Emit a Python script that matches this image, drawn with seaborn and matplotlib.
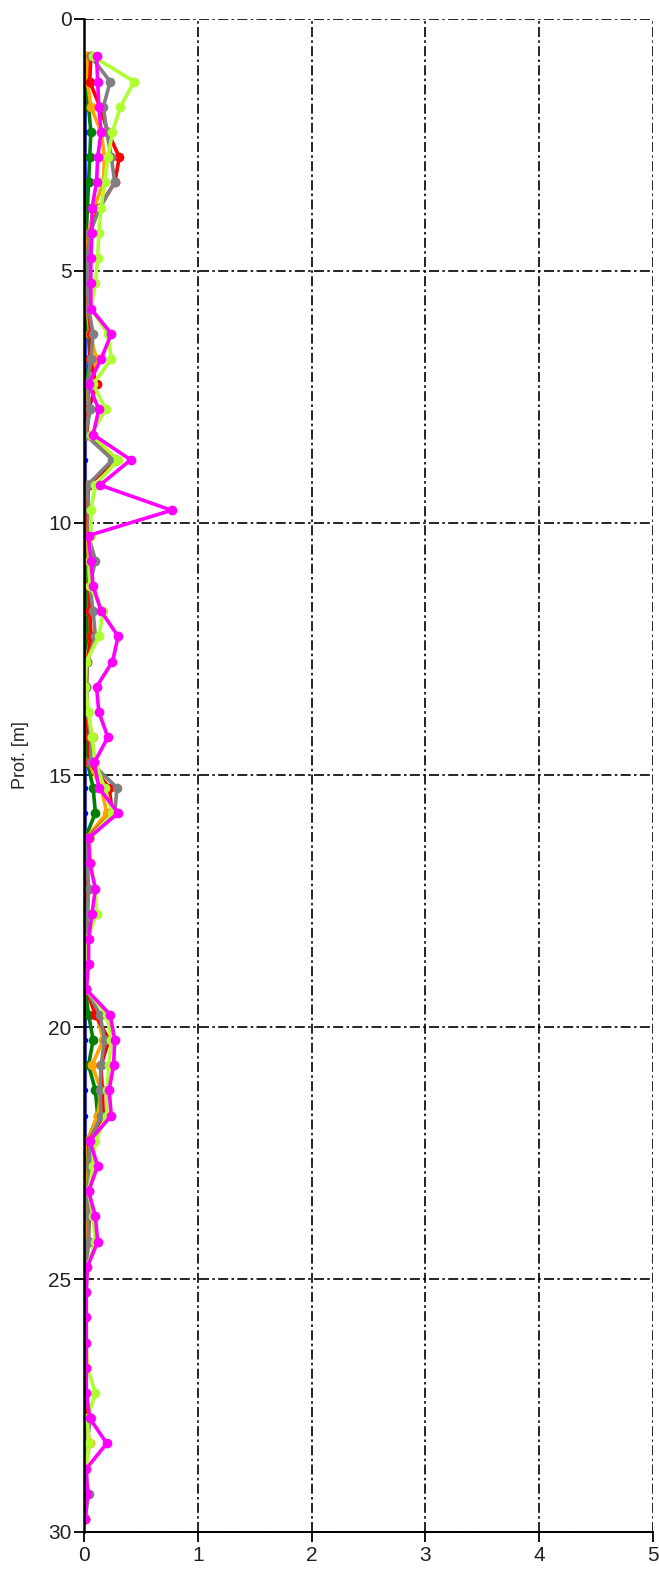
import matplotlib
matplotlib.use("Agg")
import pandas as pd
import seaborn as sns
import matplotlib.pyplot as plt

# depth of each reading [m]
depth = [0.75, 1.25, 1.75, 2.25, 2.75, 3.25, 3.75, 4.25, 4.75, 5.25,
         5.75, 6.25, 6.75, 7.25, 7.75, 8.25, 8.75, 9.25, 9.75, 10.25,
         10.75, 11.25, 11.75, 12.25, 12.75, 13.25, 13.75, 14.25, 14.75, 15.25,
         15.75, 16.25, 16.75, 17.25, 17.75, 18.25, 18.75, 19.25, 19.75, 20.25,
         20.75, 21.25, 21.75, 22.25, 22.75, 23.25, 23.75, 24.25, 24.75, 25.25,
         25.75, 26.25, 26.75, 27.25, 27.75, 28.25, 28.75, 29.25, 29.75]

blue = [0.01, 0.01, 0.01, 0.01, 0.01, 0.01, 0.01, 0.01, 0.01, 0.01,
        0.01, 0.01, 0.01, 0.01, 0.01, 0.01, 0.01, 0.01, 0.01, 0.01,
        0.01, 0.01, 0.01, 0.01, 0.01, 0.01, 0.01, 0.01, 0.01, 0.01,
        0.01, 0.01, 0.01, 0.01, 0.01, 0.01, 0.01, 0.01, 0.01, 0.01,
        0.01, 0.01, 0.01, 0.01, 0.01, 0.01, 0.01, 0.01, 0.01, 0.01,
        0.01, 0.01, 0.01, 0.01, 0.01, 0.01, 0.01, 0.01, 0.01]

dark_green = [0.01, 0.02, 0.04, 0.06, 0.05, 0.04, 0.03, 0.02, 0.01, 0.01,
              0.02, 0.04, 0.05, 0.02, 0.05, 0.02, 0.29, 0.03, 0.02, 0.02,
              0.02, 0.02, 0.03, 0.03, 0.01, 0.01, 0.01, 0.03, 0.03, 0.08,
              0.10, 0.01, 0.01, 0.01, 0.01, 0.01, 0.01, 0.01, 0.04, 0.08,
              0.04, 0.10, 0.12, 0.03, 0.02, 0.02, 0.05, 0.03, 0.01, 0.01,
              0.01, 0.01, 0.01, 0.01, 0.01, 0.02, 0.01, 0.01, 0.01]

orange = [0.03, 0.03, 0.06, 0.15, 0.18, 0.17, 0.09, 0.04, 0.02, 0.02,
          0.03, 0.05, 0.11, 0.03, 0.04, 0.02, 0.28, 0.03, 0.02, 0.03,
          0.04, 0.04, 0.05, 0.06, 0.02, 0.02, 0.02, 0.08, 0.04, 0.15,
          0.20, 0.02, 0.02, 0.04, 0.03, 0.02, 0.01, 0.02, 0.11, 0.17,
          0.07, 0.15, 0.12, 0.03, 0.04, 0.02, 0.02, 0.02, 0.01, 0.01,
          0.01, 0.01, 0.01, 0.01, 0.02, 0.05, 0.01, 0.01, 0.01]

red = [0.06, 0.05, 0.14, 0.21, 0.31, 0.27, 0.13, 0.05, 0.03, 0.03,
       0.04, 0.06, 0.05, 0.11, 0.04, 0.02, 0.27, 0.04, 0.03, 0.04,
       0.06, 0.04, 0.05, 0.06, 0.03, 0.02, 0.02, 0.04, 0.05, 0.22,
       0.25, 0.03, 0.02, 0.03, 0.03, 0.02, 0.02, 0.02, 0.10, 0.22,
       0.15, 0.16, 0.17, 0.04, 0.05, 0.04, 0.04, 0.04, 0.01, 0.01,
       0.01, 0.01, 0.01, 0.01, 0.01, 0.02, 0.01, 0.01, 0.01]

gray = [0.06, 0.23, 0.17, 0.20, 0.24, 0.27, 0.14, 0.05, 0.03, 0.03,
        0.04, 0.08, 0.06, 0.03, 0.05, 0.01, 0.25, 0.03, 0.04, 0.04,
        0.10, 0.05, 0.08, 0.10, 0.03, 0.02, 0.03, 0.06, 0.06, 0.29,
        0.27, 0.03, 0.03, 0.04, 0.03, 0.02, 0.02, 0.02, 0.14, 0.18,
        0.15, 0.14, 0.15, 0.05, 0.05, 0.03, 0.04, 0.04, 0.02, 0.01,
        0.01, 0.01, 0.01, 0.01, 0.06, 0.02, 0.01, 0.04, 0.01]

green_yellow = [0.08, 0.44, 0.32, 0.25, 0.21, 0.18, 0.15, 0.13, 0.12, 0.10,
                0.06, 0.21, 0.24, 0.08, 0.19, 0.06, 0.30, 0.10, 0.06, 0.06,
                0.05, 0.05, 0.17, 0.13, 0.02, 0.01, 0.04, 0.07, 0.10, 0.18,
                0.25, 0.05, 0.06, 0.10, 0.11, 0.03, 0.03, 0.02, 0.20, 0.24,
                0.22, 0.20, 0.20, 0.10, 0.08, 0.04, 0.08, 0.10, 0.03, 0.02,
                0.02, 0.02, 0.03, 0.10, 0.03, 0.04, 0.02, 0.02, 0.01]

magenta = [0.11, 0.12, 0.13, 0.15, 0.12, 0.11, 0.07, 0.07, 0.06, 0.06,
           0.06, 0.24, 0.15, 0.04, 0.13, 0.08, 0.41, 0.14, 0.77, 0.04,
           0.06, 0.08, 0.15, 0.30, 0.25, 0.11, 0.13, 0.21, 0.09, 0.13,
           0.30, 0.04, 0.05, 0.10, 0.07, 0.04, 0.04, 0.02, 0.23, 0.27,
           0.26, 0.22, 0.24, 0.05, 0.12, 0.04, 0.10, 0.12, 0.03, 0.02,
           0.02, 0.02, 0.02, 0.02, 0.05, 0.20, 0.02, 0.03, 0.01]

x_ticks = [0, 1, 2, 3, 4, 5]
y_ticks = [0, 5, 10, 15, 20, 25, 30]

series = [
    ("blue", blue, "#0000FF"),
    ("dark_green", dark_green, "#008000"),
    ("orange", orange, "#FFA500"),
    ("red", red, "#FF0000"),
    ("gray", gray, "#808080"),
    ("green_yellow", green_yellow, "#ADFF2F"),
    ("magenta", magenta, "#FF00FF"),
]

sns.set_style("white")
plt.rcParams["font.family"] = ["Liberation Sans", "DejaVu Sans"]

fig = plt.figure(figsize=(6.59, 15.70), dpi=100)
ax = fig.add_axes([0.1275, 0.0244, 0.8634, 0.9638])

for name, vals, color in series:
    df = pd.DataFrame({"depth": depth, "value": vals})
    small = name == "blue"
    sns.lineplot(data=df, x="value", y="depth", sort=False, estimator=None,
                 color=color, lw=1.8 if small else 2.6, marker="o",
                 markersize=4 if small else 7, markeredgewidth=0, ax=ax)

ax.set_xlim(0, 5)
ax.set_ylim(30, 0)
ax.set_xticks(x_ticks)
ax.set_yticks(y_ticks)
ax.set_xlabel("")
ax.set_ylabel("Prof. [m]", fontsize=13, labelpad=14)
ax.yaxis.label.set_y(0.513)
ax.grid(True, color="black", linestyle=(0, (6, 2, 1.5, 2)), linewidth=1.2)
ax.set_axisbelow(True)
for side in ["top", "right"]:
    ax.spines[side].set_visible(False)
ax.spines["left"].set_color("black")
ax.spines["left"].set_linewidth(1.8)
ax.spines["bottom"].set_color("black")
ax.spines["bottom"].set_linewidth(1.4)
ax.tick_params(axis="both", which="major", direction="out", length=7, width=1.3,
               color="black", labelsize=15, labelcolor="#222222",
               left=True, bottom=True)
ax.tick_params(axis="y", pad=2)
ax.tick_params(axis="x", pad=3)

fig.savefig("out.png", dpi=100)
